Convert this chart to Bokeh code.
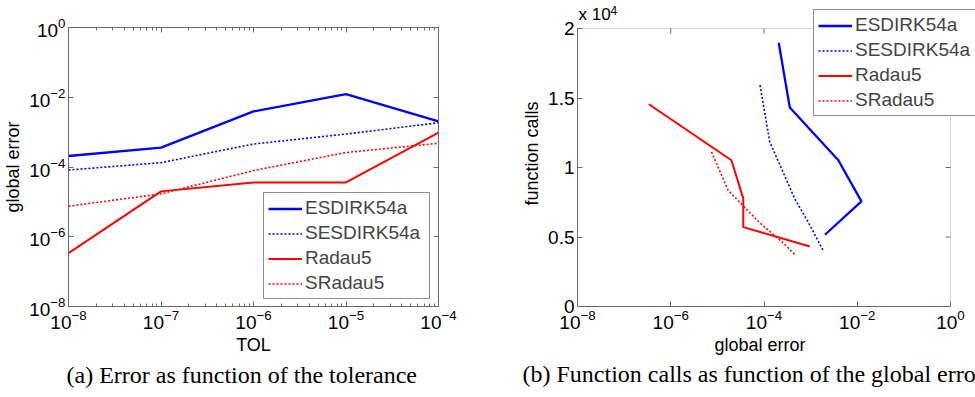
import math
from bokeh.plotting import figure
from bokeh.models import (LogAxis, FixedTicker, Legend, LegendItem, Title, Label,
                          CustomJSTickFormatter, Range1d, BoxAnnotation)
from bokeh.embed import file_html
from bokeh.resources import INLINE

# ---------------- data ----------------
tol = [1e-8, 1e-7, 1e-6, 1e-5, 1e-4]
err_esdirk = [2.07e-4, 3.58e-4, 3.93e-3, 1.23e-2, 2.03e-3]
err_sesdirk = [8.2e-5, 1.33e-4, 4.56e-4, 8.8e-4, 1.86e-3]
err_radau = [3.4e-7, 2.0e-5, 3.6e-5, 3.6e-5, 9.6e-4]
err_sradau = [7.5e-6, 1.7e-5, 7.9e-5, 2.6e-4, 4.8e-4]

calls_esdirk = [18970, 14310, 10520, 7560, 5160]
calls_sesdirk = [15920, 11840, 7760, 6080, 4030]
calls_radau = [14550, 10520, 7760, 5710, 4320]
calls_sradau = [11120, 8360, 6050, 4560, 3670]

series_names = ["ESDIRK54a", "SESDIRK54a", "Radau5", "SRadau5"]

left_xticks = [1e-8, 1e-7, 1e-6, 1e-5, 1e-4]
left_yticks = [1e-8, 1e-6, 1e-4, 1e-2, 1.0]
right_xticks = [1e-8, 1e-6, 1e-4, 1e-2, 1.0]
right_yticks = [0, 5000, 10000, 15000, 20000]
left_xminor = [m * d for d in [1e-8, 1e-7, 1e-6, 1e-5] for m in range(2, 10)]

caption_a = "(a) Error as function of the tolerance"
caption_b = "(b) Function calls as function of the global error"

# ---------------- style ----------------
FONT = "Liberation Sans"
SERIF = "Liberation Serif"
AXC = "#6a6a6a"
BLUE = "#0000FF"
RED = "#FF0000"
styles = [
    dict(color=BLUE, line_width=2.3, line_dash="solid"),
    dict(color=BLUE, line_width=1.6, line_dash="2 2"),
    dict(color=RED, line_width=2.0, line_dash="solid"),
    dict(color=RED, line_width=1.6, line_dash="2 2"),
]


def style_axis(ax, labels=True):
    ax.axis_line_color = AXC
    ax.major_tick_line_color = AXC
    ax.minor_tick_line_color = AXC
    ax.major_tick_in = 5
    ax.major_tick_out = 0
    ax.minor_tick_in = 3
    ax.minor_tick_out = 0
    ax.major_label_text_font = FONT
    ax.major_label_text_font_size = "19px"
    ax.major_label_text_color = "black"
    ax.major_label_standoff = 3
    ax.axis_label_text_font = FONT
    ax.axis_label_text_font_size = "18px"
    ax.axis_label_text_font_style = "normal"
    ax.axis_label_text_color = "black"
    ax.axis_label_standoff = 3
    if not labels:
        ax.formatter = CustomJSTickFormatter(code="return ''")
        ax.major_label_standoff = 0


def legend_kwargs():
    return dict(margin=0, label_text_font=FONT, label_text_font_size="19px",
                glyph_width=34, glyph_height=21, label_height=21, label_width=120,
                spacing=3, padding=4, label_standoff=3,
                border_line_color="#222222", border_line_width=1,
                background_fill_color="white", background_fill_alpha=1)


def base_fig(**kw):
    p = figure(output_backend="svg", toolbar_location=None, title=None, **kw)
    p.xgrid.visible = False
    p.ygrid.visible = False
    p.outline_line_color = AXC
    p.background_fill_color = "white"
    p.border_fill_color = "white"
    return p


# ---------------- left plot ----------------
p1 = base_fig(width=488, height=397, x_axis_type="log", y_axis_type="log",
              x_range=Range1d(1e-8, 1e-4), y_range=Range1d(1e-8, 1.0),
              min_border_left=67, min_border_right=50, min_border_top=27, min_border_bottom=91)

errs = [err_esdirk, err_sesdirk, err_radau, err_sradau]
r_left = [p1.line(tol, e, **s) for e, s in zip(errs, styles)]

p1.xaxis[0].ticker = FixedTicker(ticks=left_xticks, minor_ticks=left_xminor)
p1.yaxis[0].ticker = FixedTicker(ticks=left_yticks, minor_ticks=[])
p1.xaxis[0].axis_label = "TOL"
p1.yaxis[0].axis_label = "global error"
style_axis(p1.xaxis[0])
style_axis(p1.yaxis[0])
top1 = LogAxis(ticker=FixedTicker(ticks=left_xticks, minor_ticks=left_xminor))
right1 = LogAxis(ticker=FixedTicker(ticks=left_yticks, minor_ticks=[]))
style_axis(top1, labels=False)
style_axis(right1, labels=False)
p1.add_layout(top1, "above")
p1.add_layout(right1, "right")

leg1 = Legend(items=[LegendItem(label=n, renderers=[r]) for n, r in zip(series_names, r_left)],
              location=(195, 7), **legend_kwargs())
p1.add_layout(leg1)

t1 = Title(text=caption_a, text_font=SERIF, text_font_size="24px", text_font_style="normal",
           text_color="black", align="left", offset=-2, standoff=4)
p1.add_layout(t1, "below")

# ---------------- right plot ----------------
# The drawing area reaches the top and right edges of the page so that the legend
# (which overlaps the axes box in the original) is not clipped; the axes box itself
# is drawn at the data limits.
X0, X1 = 1e-8, 1.0
Y0, Y1 = 0, 20000
BOX_W, BOX_H = 373, 278          # pixel size of the visible axes box
EXTRA_R, EXTRA_T = 25, 28        # extra drawing area to the right / above the box
dec = math.log10(X1) - math.log10(X0)
x_end = 10 ** (math.log10(X1) + dec * EXTRA_R / BOX_W)
y_end = Y1 + (Y1 - Y0) * EXTRA_T / BOX_H

p2 = base_fig(width=487, height=397, x_axis_type="log",
              x_range=Range1d(X0, x_end), y_range=Range1d(Y0, y_end),
              min_border_left=89, min_border_right=0, min_border_top=0, min_border_bottom=91,
              styles={"position": "absolute", "left": "488px", "top": "0px"})
p2.outline_line_color = None

box = BoxAnnotation(left=X0, right=X1, bottom=Y0, top=Y1, fill_alpha=0,
                    line_color=AXC, line_width=1)
p2.add_layout(box)

calls = [calls_esdirk, calls_sesdirk, calls_radau, calls_sradau]
r_right = [p2.line(e, c, **s) for e, c, s in zip(errs, calls, styles)]

p2.xaxis[0].ticker = FixedTicker(ticks=right_xticks, minor_ticks=[])
p2.yaxis[0].ticker = FixedTicker(ticks=right_yticks, minor_ticks=[])
p2.xaxis[0].bounds = (X0, X1)
p2.yaxis[0].bounds = (Y0, Y1)
p2.yaxis[0].formatter = CustomJSTickFormatter(code="return String(tick / 1e4)")
p2.yaxis[0].axis_label = "function calls"
style_axis(p2.xaxis[0])
style_axis(p2.yaxis[0])

# inside ticks on the top and right edges of the box
p2.ray(x=right_xticks, y=Y1, length=5, length_units="screen", angle=-math.pi / 2,
       line_color=AXC, line_width=1)
p2.ray(x=X1, y=right_yticks, length=5, length_units="screen", angle=math.pi,
       line_color=AXC, line_width=1)

p2.add_layout(Label(x=X0, y=Y1, text="x 10", x_offset=1, y_offset=5, text_color="black",
                    text_font=FONT, text_font_size="17px", text_baseline="bottom"))
p2.add_layout(Label(x=X0, y=Y1, text="4", x_offset=33, y_offset=14, text_color="black",
                    text_font=FONT, text_font_size="12px", text_baseline="bottom"))

leg2 = Legend(items=[LegendItem(label=n, renderers=[r]) for n, r in zip(series_names, r_right)],
              location=(236, 190), **legend_kwargs())
p2.add_layout(leg2)

# x-axis label, placed under the middle of the axes box
xl2 = Title(text="global error", text_font=FONT, text_font_size="18px", text_color="black",
            text_font_style="normal", align="left", offset=137, standoff=3)
p2.add_layout(xl2, "below")

t2 = Title(text=caption_b, text_font=SERIF, text_font_size="24px", text_font_style="normal",
           text_color="black", align="left", offset=-55, standoff=4)
p2.add_layout(t2, "below")

open("out.html", "w").write(file_html([p1, p2], INLINE))
